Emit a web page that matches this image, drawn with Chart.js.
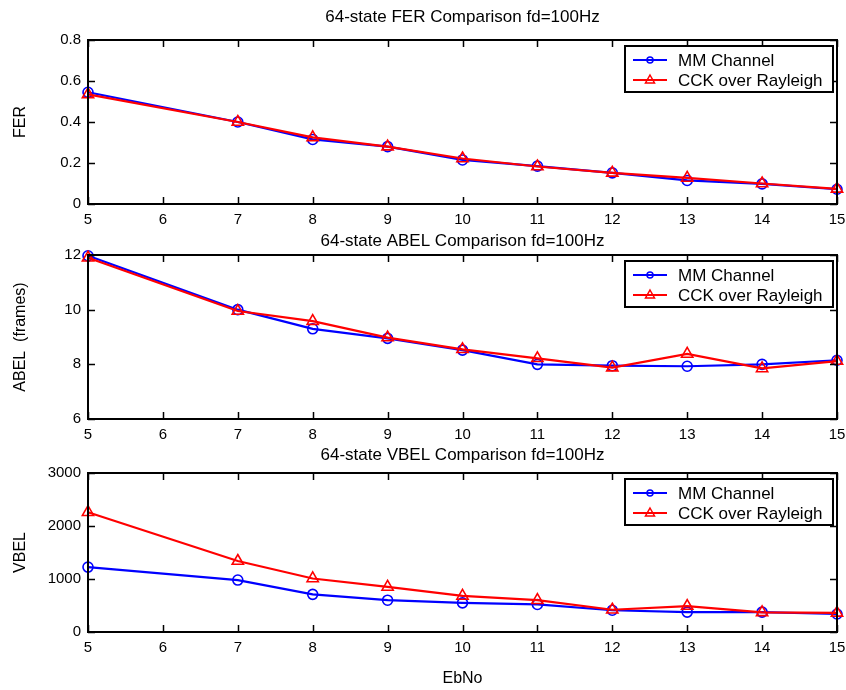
<!DOCTYPE html>
<html>
<head>
<meta charset="utf-8">
<title>64-state comparison fd=100Hz</title>
<script src="https://cdn.jsdelivr.net/npm/chart.js@4/dist/chart.umd.min.js"></script>
<style>
  html, body { margin: 0; padding: 0; background: #fff; }
  #wrap { position: relative; width: 846px; height: 690px; }
  #wrap canvas { position: absolute; left: 0; top: 0; }
</style>
</head>
<body>
<div id="wrap">
  <canvas id="ferChart" width="846" height="690"></canvas>
  <canvas id="abelChart" width="846" height="690"></canvas>
  <canvas id="vbelChart" width="846" height="690"></canvas>
</div>
<script>
// data
const ebno = [5, 7, 8, 9, 10, 11, 12, 13, 14, 15];
const xTicks = [5, 6, 7, 8, 9, 10, 11, 12, 13, 14, 15];

const ferMM  = [0.545, 0.40, 0.315, 0.28, 0.215, 0.185, 0.152, 0.115, 0.098, 0.072];
const ferCCK = [0.535, 0.40, 0.325, 0.28, 0.222, 0.183, 0.152, 0.127, 0.100, 0.074];

const abelMM  = [11.97, 10.0, 9.3, 8.95, 8.52, 8.0, 7.95, 7.93, 8.0, 8.15];
const abelCCK = [11.9, 9.95, 9.58, 8.98, 8.55, 8.22, 7.88, 8.38, 7.85, 8.12];

const vbelMM  = [1225, 980, 710, 600, 550, 520, 410, 375, 375, 340];
const vbelCCK = [2260, 1340, 1010, 850, 680, 600, 420, 490, 370, 360];

const seriesNames = ["MM Channel", "CCK over Rayleigh"];

const FONT = '"Liberation Sans", Arial, Helvetica, sans-serif';
const BLUE = "#0000ff";
const RED = "#ff0000";

// box round the axes with inward ticks on all four sides (matlab style)
const boxAxes = {
  id: "boxAxes",
  afterDatasetsDraw(chart) {
    const { ctx, chartArea: a, scales: { x, y } } = chart;
    const len = 7;
    ctx.save();
    ctx.strokeStyle = "#000";
    ctx.lineWidth = 1.5;
    ctx.beginPath();
    x.ticks.forEach((t) => {
      const px = Math.round(x.getPixelForValue(t.value)) + 0.5;
      ctx.moveTo(px, a.bottom); ctx.lineTo(px, a.bottom - len);
      ctx.moveTo(px, a.top); ctx.lineTo(px, a.top + len);
    });
    y.ticks.forEach((t) => {
      const py = Math.round(y.getPixelForValue(t.value)) + 0.5;
      ctx.moveTo(a.left, py); ctx.lineTo(a.left + len, py);
      ctx.moveTo(a.right, py); ctx.lineTo(a.right - len, py);
    });
    ctx.stroke();
    ctx.lineWidth = 2;
    ctx.strokeRect(a.left, a.top, a.right - a.left, a.bottom - a.top);
    ctx.restore();
  },
};

// legend box in the top right corner, line with marker in the middle
const boxLegend = {
  id: "boxLegend",
  afterDraw(chart) {
    const { ctx, chartArea: a } = chart;
    const w = 208, h = 46;
    const x0 = a.right - 212, y0 = a.top + 6;
    ctx.save();
    ctx.fillStyle = "#fff";
    ctx.fillRect(x0, y0, w, h);
    ctx.strokeStyle = "#000";
    ctx.lineWidth = 2;
    ctx.strokeRect(x0, y0, w, h);
    const order = [1, 0]; // MM first, then CCK
    order.forEach((di, row) => {
      const ds = chart.data.datasets[di];
      const cy = y0 + 14 + row * 20;
      ctx.strokeStyle = ds.borderColor;
      ctx.lineWidth = 2.2;
      ctx.beginPath();
      ctx.moveTo(x0 + 8, cy);
      ctx.lineTo(x0 + 42, cy);
      ctx.stroke();
      ctx.lineWidth = 1.5;
      if (ds.pointStyle === "circle") {
        ctx.beginPath();
        ctx.arc(x0 + 25, cy, 3, 0, Math.PI * 2);
        ctx.stroke();
      } else {
        ctx.beginPath();
        ctx.moveTo(x0 + 25, cy - 5);
        ctx.lineTo(x0 + 29.5, cy + 3);
        ctx.lineTo(x0 + 20.5, cy + 3);
        ctx.closePath();
        ctx.stroke();
      }
      ctx.fillStyle = "#000";
      ctx.font = "17px " + FONT;
      ctx.textBaseline = "middle";
      ctx.fillText(ds.label, x0 + 53, cy + 1);
    });
    ctx.restore();
  },
};

function makeDatasets(mm, cck) {
  return [
    {
      label: seriesNames[1],
      data: cck,
      borderColor: RED,
      backgroundColor: RED,
      borderWidth: 2.2,
      pointStyle: "triangle",
      pointRadius: 6.5,
      pointBorderWidth: 1.6,
      pointBorderColor: RED,
      pointBackgroundColor: "rgba(0,0,0,0)",
      tension: 0,
      clip: false,
      order: 0,
    },
    {
      label: seriesNames[0],
      data: mm,
      borderColor: BLUE,
      backgroundColor: BLUE,
      borderWidth: 2.2,
      pointStyle: "circle",
      pointRadius: 5,
      pointBorderWidth: 1.6,
      pointBorderColor: BLUE,
      pointBackgroundColor: "rgba(0,0,0,0)",
      tension: 0,
      clip: false,
      order: 1,
    },
  ];
}

function makeChart(id, cfg) {
  const ctx = document.getElementById(id).getContext("2d");
  return new Chart(ctx, {
    type: "line",
    data: { labels: ebno, datasets: makeDatasets(cfg.mm, cfg.cck) },
    plugins: [boxAxes, boxLegend],
    options: {
      responsive: false,
      animation: false,
      events: [],
      layout: { padding: { left: 0, right: 9, top: cfg.padTop, bottom: cfg.padBottom } },
      plugins: {
        legend: { display: false },
        tooltip: { enabled: false },
        title: {
          display: true,
          text: cfg.title,
          fullSize: false,
          color: "#000",
          font: { family: FONT, size: 17, weight: "normal" },
          padding: { top: cfg.titleTop, bottom: cfg.titleBottom },
        },
      },
      scales: {
        x: {
          type: "linear",
          min: 5,
          max: 15,
          afterBuildTicks: (s) => { s.ticks = xTicks.map((v) => ({ value: v })); },
          afterFit: (s) => {
            s.height = cfg.xHeight;
            s.paddingLeft = 0;
            s.paddingRight = 0;
          },
          grid: { display: false, drawTicks: false },
          border: { display: false },
          ticks: { color: "#000", padding: 7, font: { family: FONT, size: 15 } },
          title: {
            display: !!cfg.xTitle,
            text: cfg.xTitle || "",
            color: "#000",
            font: { family: FONT, size: 16 },
            padding: { top: 0, bottom: 2 },
          },
        },
        y: {
          min: cfg.yMin,
          max: cfg.yMax,
          afterBuildTicks: (s) => { s.ticks = cfg.yTicks.map((v) => ({ value: v })); },
          afterFit: (s) => { s.width = 88; },
          grid: { display: false, drawTicks: false },
          border: { display: false },
          ticks: {
            color: "#000",
            padding: 7,
            font: { family: FONT, size: 15 },
            callback: (v) => String(v),
          },
          title: {
            display: true,
            text: cfg.yTitle,
            color: "#000",
            font: { family: FONT, size: 16 },
            padding: { top: 11, bottom: 0 },
          },
        },
      },
    },
  });
}

makeChart("ferChart", {
  title: "64-state FER Comparison fd=100Hz",
  mm: ferMM, cck: ferCCK,
  yMin: 0, yMax: 0.8, yTicks: [0, 0.2, 0.4, 0.6, 0.8],
  yTitle: "FER",
  padTop: 0, titleTop: 6.8, titleBottom: 12.8,
  padBottom: 456, xHeight: 30,
});

makeChart("abelChart", {
  title: "64-state ABEL Comparison fd=100Hz",
  mm: abelMM, cck: abelCCK,
  yMin: 6, yMax: 12, yTicks: [6, 8, 10, 12],
  yTitle: "ABEL  (frames)",
  padTop: 220, titleTop: 10.8, titleBottom: 3.8,
  padBottom: 241, xHeight: 30,
});

makeChart("vbelChart", {
  title: "64-state VBEL Comparison fd=100Hz",
  mm: vbelMM, cck: vbelCCK,
  yMin: 0, yMax: 3000, yTicks: [0, 1000, 2000, 3000],
  yTitle: "VBEL",
  xTitle: "EbNo",
  padTop: 435, titleTop: 9.8, titleBottom: 7.8,
  padBottom: 0, xHeight: 58,
});
</script>
</body>
</html>
